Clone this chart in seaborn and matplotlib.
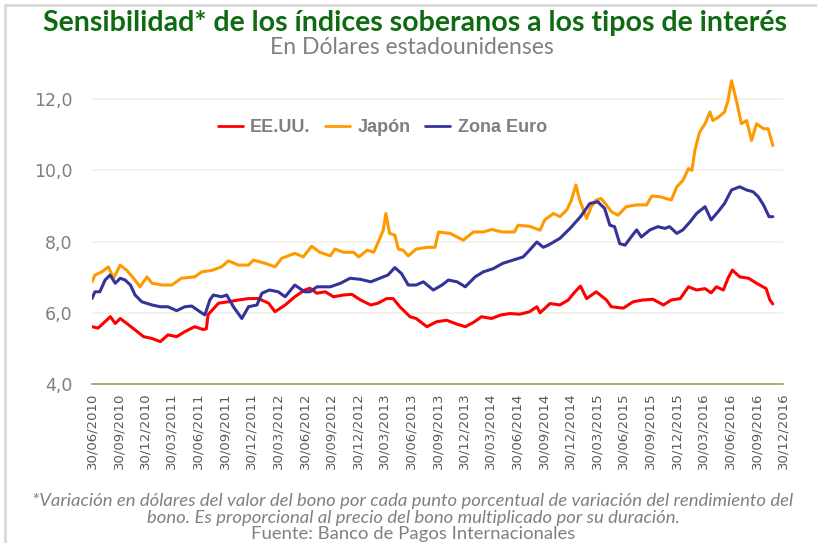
import pandas as pd
import matplotlib
matplotlib.use("Agg")
import matplotlib.pyplot as plt
import seaborn as sns
from matplotlib.lines import Line2D

# Datos (sensibilidad en dólares)
eeuu_fechas = [
    '2010-06-30', '2010-07-21', '2010-09-01', '2010-09-18', '2010-10-05', '2010-11-03', '2010-11-25', '2010-12-24',
    '2011-01-22', '2011-02-20', '2011-03-18', '2011-04-17', '2011-05-15', '2011-06-18', '2011-07-17', '2011-07-28',
    '2011-08-03', '2011-09-08', '2011-10-12', '2011-11-15', '2011-12-20',
    '2012-01-23', '2012-02-27', '2012-03-20', '2012-04-24', '2012-05-27', '2012-06-30', '2012-07-18', '2012-08-11',
    '2012-09-09', '2012-10-07', '2012-11-11', '2012-12-09',
    '2013-01-08', '2013-02-12', '2013-03-09', '2013-04-08', '2013-04-30', '2013-05-23', '2013-06-27', '2013-07-18',
    '2013-08-24', '2013-09-27', '2013-10-31', '2013-12-06',
    '2014-01-03', '2014-01-31', '2014-02-28', '2014-04-03', '2014-05-06', '2014-06-06', '2014-07-09', '2014-08-12',
    '2014-09-06', '2014-09-17', '2014-10-21', '2014-11-24', '2014-12-23',
    '2015-01-15', '2015-02-03', '2015-02-24', '2015-03-29', '2015-05-03', '2015-05-20', '2015-06-30', '2015-08-03',
    '2015-09-06', '2015-10-10', '2015-11-15', '2015-12-12',
    '2016-01-12', '2016-02-09', '2016-03-08', '2016-04-06', '2016-04-27', '2016-05-15', '2016-06-08', '2016-06-24',
    '2016-07-09', '2016-08-03', '2016-09-03', '2016-09-30', '2016-11-02', '2016-11-15', '2016-11-25',
]
eeuu_valores = [
    5.61, 5.57, 5.89, 5.70, 5.84, 5.66, 5.52, 5.33,
    5.28, 5.19, 5.38, 5.33, 5.47, 5.61, 5.53, 5.55,
    5.95, 6.27, 6.31, 6.36, 6.40,
    6.40, 6.27, 6.03, 6.22, 6.45, 6.64, 6.69, 6.55,
    6.59, 6.45, 6.50, 6.52,
    6.36, 6.22, 6.27, 6.40, 6.40, 6.17, 5.89, 5.84,
    5.61, 5.75, 5.79, 5.68,
    5.61, 5.73, 5.89, 5.84, 5.94, 5.98, 5.96, 6.03,
    6.17, 6.00, 6.26, 6.22, 6.36,
    6.59, 6.75, 6.40, 6.59, 6.36, 6.17, 6.13, 6.31,
    6.36, 6.38, 6.22, 6.36,
    6.40, 6.73, 6.64, 6.68, 6.56, 6.73, 6.64, 6.97,
    7.20, 7.01, 6.97, 6.83, 6.68, 6.36, 6.25,
]

japon_fechas = [
    '2010-06-30', '2010-07-10', '2010-08-03', '2010-08-25', '2010-09-12', '2010-10-05', '2010-10-28', '2010-11-20',
    '2010-12-12',
    '2011-01-05', '2011-01-22', '2011-02-26', '2011-03-31', '2011-05-03', '2011-06-18', '2011-07-12', '2011-08-15',
    '2011-09-18', '2011-10-12', '2011-11-15', '2011-12-20',
    '2012-01-06', '2012-02-15', '2012-03-20', '2012-04-12', '2012-05-27', '2012-06-25', '2012-07-24', '2012-08-21',
    '2012-09-26', '2012-10-12', '2012-11-11', '2012-12-15',
    '2013-01-02', '2013-01-31', '2013-02-22', '2013-03-09', '2013-03-27', '2013-04-05', '2013-04-18', '2013-05-06',
    '2013-05-18', '2013-06-03', '2013-06-21', '2013-07-18', '2013-08-24', '2013-09-21', '2013-10-03', '2013-11-12',
    '2013-12-27',
    '2014-01-31', '2014-03-06', '2014-04-03', '2014-05-12', '2014-06-21', '2014-07-03', '2014-08-12', '2014-09-17',
    '2014-10-03', '2014-11-02', '2014-11-24', '2014-12-18',
    '2015-01-03', '2015-01-18', '2015-01-31', '2015-02-13', '2015-02-24', '2015-03-12', '2015-03-29', '2015-04-15',
    '2015-05-03', '2015-05-20', '2015-06-12', '2015-07-10', '2015-08-15', '2015-09-18', '2015-10-06', '2015-11-03',
    '2015-12-12', '2015-12-31',
    '2016-01-21', '2016-02-09', '2016-02-21', '2016-03-02', '2016-03-18', '2016-04-06', '2016-04-23', '2016-05-03',
    '2016-05-21', '2016-06-12', '2016-06-24', '2016-07-06', '2016-07-24', '2016-08-09', '2016-08-27', '2016-09-13',
    '2016-09-30', '2016-10-24', '2016-11-09', '2016-11-25',
]
japon_valores = [
    6.87, 7.06, 7.15, 7.29, 6.97, 7.34, 7.19, 6.97,
    6.73,
    7.01, 6.83, 6.78, 6.78, 6.97, 7.01, 7.15, 7.19,
    7.29, 7.46, 7.34, 7.34,
    7.48, 7.39, 7.29, 7.53, 7.67, 7.57, 7.87, 7.70,
    7.60, 7.79, 7.70, 7.70,
    7.57, 7.76, 7.70, 7.97, 8.32, 8.79, 8.23, 8.18,
    7.79, 7.76, 7.60, 7.79, 7.84, 7.84, 8.27, 8.23,
    8.04,
    8.27, 8.27, 8.34, 8.27, 8.27, 8.46, 8.43, 8.32,
    8.61, 8.79, 8.70, 8.89,
    9.17, 9.59, 9.17, 8.89, 8.65, 8.98, 9.17, 9.21,
    9.03, 8.84, 8.74, 8.98, 9.03, 9.03, 9.28, 9.26,
    9.17, 9.54,
    9.72, 10.05, 10.00, 10.56, 11.07, 11.31, 11.64, 11.40,
    11.49, 11.64, 11.96, 12.52, 11.92, 11.31, 11.40, 10.84,
    11.31, 11.17, 11.17, 10.70,
]

euro_fechas = [
    '2010-06-30', '2010-07-10', '2010-07-27', '2010-08-14', '2010-08-31', '2010-09-18', '2010-10-05', '2010-10-22',
    '2010-11-09', '2010-11-25', '2010-12-18',
    '2011-01-22', '2011-02-20', '2011-03-18', '2011-04-17', '2011-05-15', '2011-06-08', '2011-07-06', '2011-07-23',
    '2011-08-09', '2011-08-21', '2011-09-18', '2011-10-06', '2011-10-29', '2011-11-27', '2011-12-20',
    '2012-01-18', '2012-02-04', '2012-03-01', '2012-03-31', '2012-04-24', '2012-05-27', '2012-06-30', '2012-07-18',
    '2012-08-11', '2012-09-26', '2012-10-31', '2012-12-03',
    '2013-01-08', '2013-02-12', '2013-03-15', '2013-04-12', '2013-05-06', '2013-05-29', '2013-06-21', '2013-07-18',
    '2013-08-12', '2013-09-15', '2013-10-15', '2013-11-06', '2013-12-06',
    '2014-01-03', '2014-02-06', '2014-03-06', '2014-04-09', '2014-05-12', '2014-06-16', '2014-07-21', '2014-08-12',
    '2014-09-06', '2014-09-28', '2014-10-15', '2014-11-24', '2014-12-29',
    '2015-02-03', '2015-03-07', '2015-04-03', '2015-04-27', '2015-05-15', '2015-05-31', '2015-06-18', '2015-07-06',
    '2015-07-27', '2015-08-15', '2015-08-31', '2015-09-30', '2015-10-27', '2015-11-20', '2015-12-06', '2015-12-31',
    '2016-01-21', '2016-02-15', '2016-03-08', '2016-04-06', '2016-04-27', '2016-05-21', '2016-06-12', '2016-07-06',
    '2016-08-03', '2016-08-27', '2016-09-18', '2016-10-06', '2016-10-24', '2016-11-12', '2016-11-25',
]
euro_valores = [
    6.40, 6.59, 6.59, 6.92, 7.06, 6.83, 6.97, 6.92,
    6.78, 6.50, 6.31,
    6.22, 6.17, 6.17, 6.06, 6.17, 6.19, 6.03, 5.94,
    6.36, 6.50, 6.45, 6.50, 6.17, 5.84, 6.17,
    6.22, 6.55, 6.64, 6.59, 6.45, 6.78, 6.59, 6.59,
    6.73, 6.73, 6.83, 6.97,
    6.94, 6.87, 6.97, 7.06, 7.27, 7.10, 6.78, 6.78,
    6.87, 6.64, 6.78, 6.92, 6.87,
    6.73, 7.01, 7.15, 7.24, 7.39, 7.48, 7.57, 7.76,
    7.99, 7.84, 7.90, 8.09, 8.37,
    8.70, 9.07, 9.12, 8.93, 8.46, 8.42, 7.94, 7.90,
    8.13, 8.33, 8.13, 8.33, 8.42, 8.37, 8.42, 8.23,
    8.33, 8.56, 8.79, 8.98, 8.61, 8.84, 9.07, 9.45,
    9.54, 9.45, 9.40, 9.26, 9.03, 8.70, 8.70,
]

series = ['EE.UU.', 'Japón', 'Zona Euro']
colores = ['#FF0000', '#FF9900', '#333399']

ticks_x = [
    '30/06/2010', '30/09/2010', '30/12/2010', '30/03/2011', '30/06/2011', '30/09/2011', '30/12/2011',
    '30/03/2012', '30/06/2012', '30/09/2012', '30/12/2012', '30/03/2013', '30/06/2013', '30/09/2013',
    '30/12/2013', '30/03/2014', '30/06/2014', '30/09/2014', '30/12/2014', '30/03/2015', '30/06/2015',
    '30/09/2015', '30/12/2015', '30/03/2016', '30/06/2016', '30/09/2016', '30/12/2016',
]
ticks_y = [4, 6, 8, 10, 12]

# tabla larga para seaborn
df = pd.concat([
    pd.DataFrame({'fecha': eeuu_fechas, 'valor': eeuu_valores, 'serie': series[0]}),
    pd.DataFrame({'fecha': japon_fechas, 'valor': japon_valores, 'serie': series[1]}),
    pd.DataFrame({'fecha': euro_fechas, 'valor': euro_valores, 'serie': series[2]}),
])
df['fecha'] = pd.to_datetime(df['fecha'])

sns.set_style("white")
plt.rcParams['font.family'] = ['DejaVu Sans']

W, H = 817, 543
fig = plt.figure(figsize=(W / 100, H / 100), dpi=100)
ax = fig.add_axes([92 / W, 1 - 384 / H, (783 - 92) / W, (384 - 63.6) / H])

sns.lineplot(
    data=df, x='fecha', y='valor', hue='serie',
    hue_order=series, palette=colores,
    estimator=None, linewidth=2.2, ax=ax, legend=False
)

fechas_ticks = pd.to_datetime(ticks_x, dayfirst=True)
ax.set_xlim(fechas_ticks[0], fechas_ticks[-1])
ax.set_ylim(4, 13)
ax.set_xticks(fechas_ticks)
ax.set_xticklabels(ticks_x, rotation=90, fontsize=9.5, color='#595959')
ax.set_yticks(ticks_y)
ax.set_yticklabels([f"{v:.1f}".replace('.', ',') for v in ticks_y], fontsize=12.5, color='#7f7f7f')
ax.tick_params(axis='both', length=0)
ax.tick_params(axis='y', pad=14)
ax.tick_params(axis='x', pad=6)
ax.set_xlabel('')
ax.set_ylabel('')

for v in ticks_y[1:]:
    ax.axhline(v, color='#F2F0E8', linewidth=1.2, zorder=0)
for s in ['top', 'right', 'left']:
    ax.spines[s].set_visible(False)
ax.spines['bottom'].set_color('#A89F72')
ax.spines['bottom'].set_linewidth(1.3)

handles = [Line2D([0], [0], color=c, linewidth=2) for c in colores]
leg = ax.legend(handles, series, ncol=3, frameon=False, loc='center',
                bbox_to_anchor=(0.42, 0.80), handlelength=1.4, handletextpad=0.4,
                columnspacing=0.8, prop={'family': 'Liberation Sans', 'weight': 'bold', 'size': 13})
for t in leg.get_texts():
    t.set_color('#7f7f7f')

fig.text(415 / W, 1 - 23 / H, 'Sensibilidad* de los índices soberanos a los tipos de interés',
         ha='center', va='center', fontsize=20.5, fontweight='bold', color='#0E6B12', family='Lato')
fig.text(412 / W, 1 - 48 / H, 'En Dólares estadounidenses',
         ha='center', va='center', fontsize=16.5, color='#808080', family='Lato')

nota = ('*Variación en dólares del valor del bono por cada punto porcentual de variación del rendimiento del',
        'bono. Es proporcional al precio del bono multiplicado por su duración.',
        'Fuente: Banco de Pagos Internacionales')
for i, linea in enumerate(nota):
    fig.text(413 / W, 1 - (501 + 16.5 * i) / H, linea, ha='center', va='center',
             fontsize=13.3, style='italic' if i < 2 else 'normal', color='#808080', family='Lato')

# marco gris claro de la diapositiva
fig.add_artist(Line2D([5 / W, 1], [1 - 5 / H, 1 - 5 / H], color='#D9D9D9', linewidth=2))
fig.add_artist(Line2D([5 / W, 5 / W], [0, 1 - 5 / H], color='#D9D9D9', linewidth=2))

fig.savefig('out.png', dpi=100)
